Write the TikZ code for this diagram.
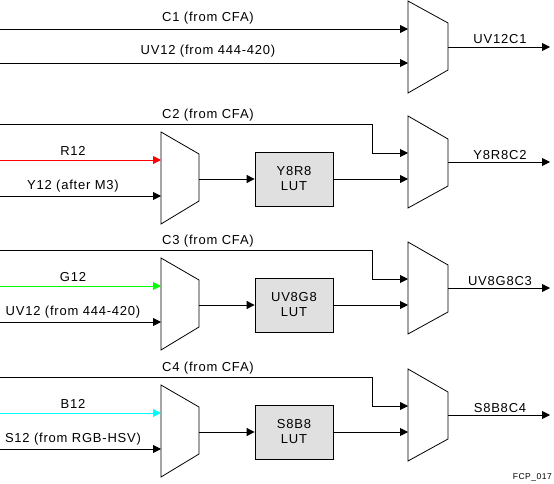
\documentclass[tikz,border=0pt]{standalone}
\usepackage{fontspec}
\setmainfont{Liberation Sans}
\newfontfamily\lblfont[LetterSpace=6]{Liberation Sans}
\usetikzlibrary{arrows.meta}
\definecolor{lutgray}{RGB}{224,224,224}
\definecolor{sigred}{RGB}{255,0,0}
\definecolor{siggreen}{RGB}{0,255,0}
\definecolor{sigcyan}{RGB}{0,255,255}
\tikzset{
  wire/.style={line width=0.9pt,-{Triangle[length=8pt,width=8pt]}},
  muxshape/.style={draw,line width=0.8pt},
  lut/.style={draw,line width=0.8pt,fill=lutgray,minimum width=78pt,minimum height=54pt,align=center,inner sep=0pt,font=\lblfont\fontsize{13}{15}\selectfont},
  lbl/.style={font=\lblfont\fontsize{13}{15}\selectfont,inner sep=0pt},
}
\newcommand\lutrow[8]{%
\begin{scope}[shift={(0,#1)}]
  \coordinate (c#8s) at (0,8);
  \coordinate (c#8b) at (372,8);
  \coordinate (c#8d) at (372,37);
  \coordinate (M#8a) at (408,37);
  \coordinate (M#8b) at (408,63);
  \coordinate (M#8o) at (448,46);
  \coordinate (o#8) at (550,46);
  \coordinate (m#8a) at (161,44);
  \coordinate (m#8b) at (161,80);
  \coordinate (m#8o) at (199,63);
  \coordinate (i#8a) at (0,44);
  \coordinate (i#8b) at (0,80);
  \draw[muxshape] (408,0) -- (448,23) -- (448,70) -- (408,92) -- cycle;
  \draw[muxshape] (161,16) -- (199,38) -- (199,85) -- (161,108) -- cycle;
  \node[lut] (L#8) at (294,63) {#6\\LUT};
  \draw[wire] (c#8s) -- (c#8b) -- (c#8d) -- (M#8a);
  \draw[wire,#3] (i#8a) -- (m#8a);
  \draw[wire] (i#8b) -- (m#8b);
  \draw[wire] (m#8o) -- (L#8.west);
  \draw[wire] (L#8.east) -- (M#8b);
  \draw[wire] (M#8o) -- (o#8);
  \node[lbl] (lc#8) at (208,-1) {#2};
  \node[lbl] (la#8) at (73,35) {#4};
  \node[lbl] (lb#8) at (73,70) {#5};
  \node[lbl] (lo#8) at (500,39) {#7};
\end{scope}}
\begin{document}
\begin{tikzpicture}[x=1pt,y=-1pt]
\useasboundingbox (0,0) rectangle (554,484);
% row 1
\coordinate (s1a) at (0,29);
\coordinate (s1b) at (0,63);
\coordinate (m1a) at (408,29);
\coordinate (m1b) at (408,63);
\coordinate (m1o) at (448,47);
\coordinate (o1) at (550,47);
\draw[muxshape] (408,1) -- (448,23) -- (448,70) -- (408,93) -- cycle;
\draw[wire] (s1a) -- (m1a);
\draw[wire] (s1b) -- (m1b);
\draw[wire] (m1o) -- (o1);
\node[lbl] (l1a) at (208,18) {C1 (from CFA)};
\node[lbl] (l1b) at (208,51) {UV12 (from 444-420)};
\node[lbl] (l1o) at (500,39) {UV12C1};
% rows 2-4
\lutrow{116}{C2 (from CFA)}{sigred}{R12}{Y12 (after M3)}{Y8R8}{Y8R8C2}{2}
\lutrow{242}{C3 (from CFA)}{siggreen}{G12}{UV12 (from 444-420)}{UV8G8}{UV8G8C3}{3}
\lutrow{369}{C4 (from CFA)}{sigcyan}{B12}{S12 (from RGB-HSV)}{S8B8}{S8B8C4}{4}
\node[font=\lblfont\fontsize{8.5}{10}\selectfont,inner sep=0pt,anchor=east] (fcp) at (552,477) {FCP\_017};
\end{tikzpicture}
\end{document}
